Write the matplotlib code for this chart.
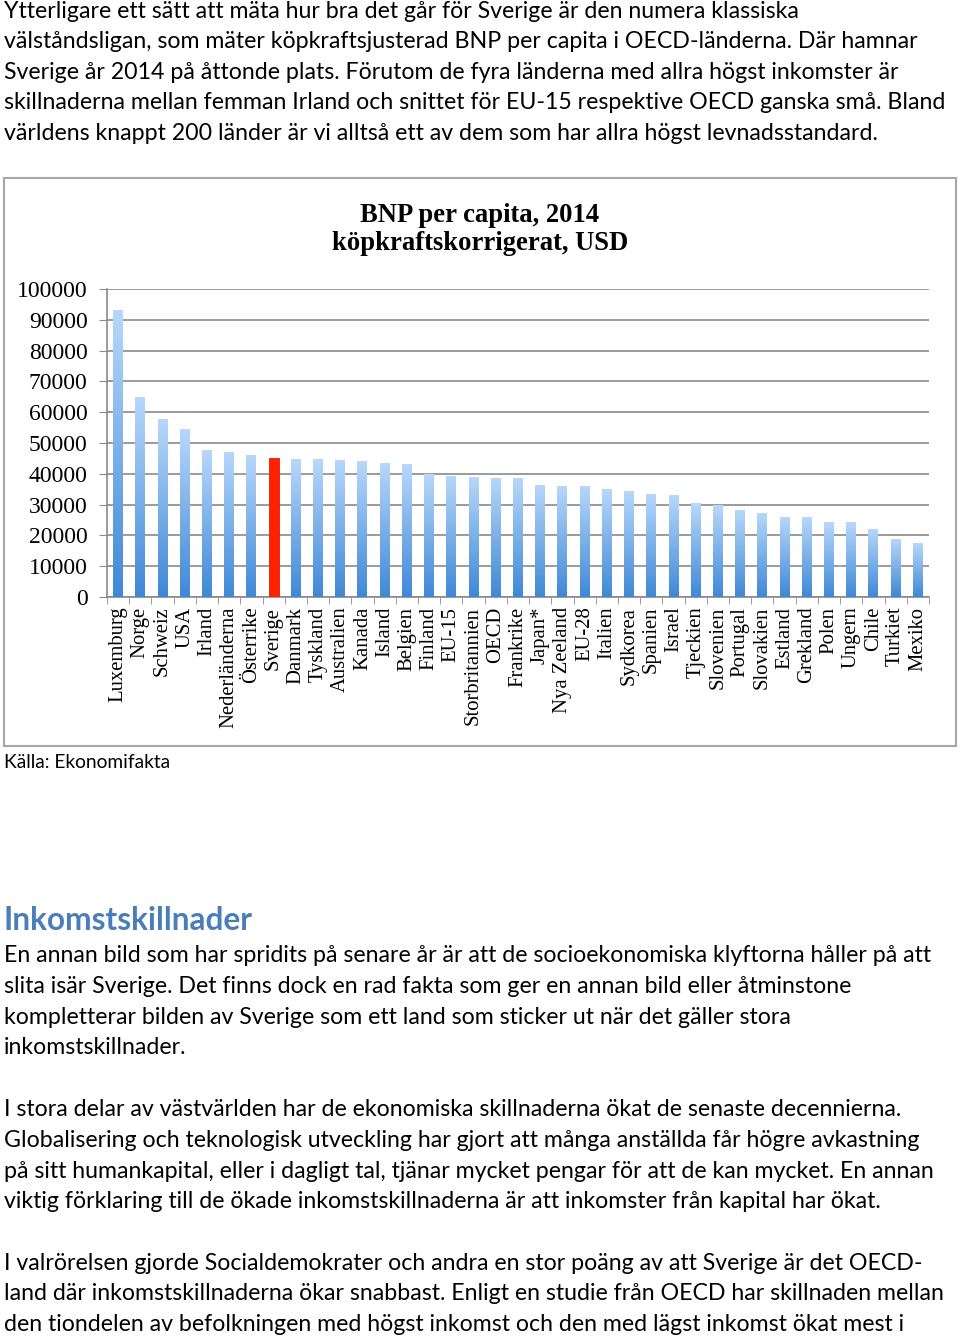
import numpy as np
import matplotlib
matplotlib.use("Agg")
import matplotlib.pyplot as plt
from matplotlib.patches import Rectangle
from matplotlib.colors import LinearSegmentedColormap

countries = ["Luxemburg", "Norge", "Schweiz", "USA", "Irland", "Nederländerna",
             "Österrike", "Sverige", "Danmark", "Tyskland", "Australien", "Kanada",
             "Island", "Belgien", "Finland", "EU-15", "Storbritannien", "OECD",
             "Frankrike", "Japan*", "Nya Zeeland", "EU-28", "Italien", "Sydkorea",
             "Spanien", "Israel", "Tjeckien", "Slovenien", "Portugal", "Slovakien",
             "Estland", "Grekland", "Polen", "Ungern", "Chile", "Turkiet", "Mexiko"]
gdp = [93300, 64900, 57800, 54700, 47700, 47100, 46100, 45000, 44800, 44800,
       44500, 44000, 43600, 43100, 39900, 39300, 39000, 38700, 38700, 36400,
       36200, 36100, 35000, 34300, 33600, 33000, 30500, 29800, 28200, 27400,
       26100, 25900, 24300, 24200, 22200, 18900, 17500]
highlight = "Sverige"
yticks = [0, 10000, 20000, 30000, 40000, 50000, 60000, 70000, 80000, 90000, 100000]

title_lines = ["BNP per capita, 2014", "köpkraftskorrigerat, USD"]
source = "Källa: Ekonomifakta"
intro = ["Ytterligare ett sätt att mäta hur bra det går för Sverige är den numera klassiska",
         "välståndsligan, som mäter köpkraftsjusterad BNP per capita i OECD-länderna. Där hamnar",
         "Sverige år 2014 på åttonde plats. Förutom de fyra länderna med allra högst inkomster är",
         "skillnaderna mellan femman Irland och snittet för EU-15 respektive OECD ganska små. Bland",
         "världens knappt 200 länder är vi alltså ett av dem som har allra högst levnadsstandard."]
heading = "Inkomstskillnader"
para1 = ["En annan bild som har spridits på senare år är att de socioekonomiska klyftorna håller på att",
         "slita isär Sverige. Det finns dock en rad fakta som ger en annan bild eller åtminstone",
         "kompletterar bilden av Sverige som ett land som sticker ut när det gäller stora",
         "inkomstskillnader."]
para2 = ["I stora delar av västvärlden har de ekonomiska skillnaderna ökat de senaste decennierna.",
         "Globalisering och teknologisk utveckling har gjort att många anställda får högre avkastning",
         "på sitt humankapital, eller i dagligt tal, tjänar mycket pengar för att de kan mycket. En annan",
         "viktig förklaring till de ökade inkomstskillnaderna är att inkomster från kapital har ökat."]
para3 = ["I valrörelsen gjorde Socialdemokrater och andra en stor poäng av att Sverige är det OECD-",
         "land där inkomstskillnaderna ökar snabbast. Enligt en studie från OECD har skillnaden mellan",
         "den tiondelen av befolkningen med högst inkomst och den med lägst inkomst ökat mest i"]

W, H = 960, 1338
fig = plt.figure(figsize=(W / 100, H / 100), dpi=100)
fig.patch.set_facecolor("white")

def fy(py):
    return 1 - py / H

body_font = "Lato"
body_size = 16.7
def line(txt, x, y, size=body_size, **kw):
    fig.text(x / W, fy(y), txt, ha="left", va="center", fontsize=size,
             family=body_font, color="black", **kw)

for i, t in enumerate(intro):
    line(t, 4, 11 + i * 30.6)

# chart frame
fig.patches.append(Rectangle((4 / W, fy(746)), 952 / W, (746 - 178) / H,
                             transform=fig.transFigure, fill=False,
                             edgecolor="#a6a6a6", lw=1.5))

fig.text(480 / W, fy(215), title_lines[0], ha="center", va="center",
         fontsize=19.2, fontweight="bold", family="Liberation Serif")
fig.text(480 / W, fy(244), title_lines[1], ha="center", va="center",
         fontsize=19.2, fontweight="bold", family="Liberation Serif")

ax_l, ax_r, ax_t, ax_b = 107, 929, 289, 597
ax = fig.add_axes([ax_l / W, fy(ax_b), (ax_r - ax_l) / W, (ax_b - ax_t) / H])
x = np.arange(len(countries))
bw = 0.45
bars = ax.bar(x, gdp, width=bw, color="none", edgecolor="none", zorder=3)
grad = np.linspace(0, 1, 256).reshape(-1, 1)
cmap = LinearSegmentedColormap.from_list("bl", ["#3f88d6", "#b8d8fb"])
for b, c in zip(bars, countries):
    x0, w_, h_ = b.get_x(), b.get_width(), b.get_height()
    if c == highlight:
        b.set_facecolor("#ff2200")
        b.set_edgecolor("#e01e00")
        b.set_linewidth(0.6)
    else:
        im = ax.imshow(grad, extent=(x0, x0 + w_, 0, h_), origin="lower",
                       cmap=cmap, aspect="auto", zorder=3)
        im.set_clip_path(b)

ax.set_xlim(-0.5, len(countries) - 0.5)
ax.set_ylim(0, 100000)
ax.set_yticks(yticks)
ax.set_yticklabels([str(v) for v in yticks], family="Liberation Serif", fontsize=17)
ax.yaxis.grid(True, color="#8a8a8a", lw=1.2, zorder=1)
ax.set_axisbelow(True)
ax.set_xticks(x)
ax.set_xticklabels(countries, rotation=90, family="Liberation Serif", fontsize=14.9,
                   va="top", ha="center")
ax.set_xticks(np.arange(-0.5, len(countries)), minor=True)
ax.tick_params(axis="x", which="major", length=0, pad=7)
ax.tick_params(axis="x", which="minor", length=5, color="#8a8a8a", direction="out")
ax.tick_params(axis="y", length=6, color="#8a8a8a", pad=8, direction="out")
for s in ["top", "right"]:
    ax.spines[s].set_visible(False)
for s in ["left", "bottom"]:
    ax.spines[s].set_color("#8a8a8a")
    ax.spines[s].set_linewidth(1.2)

line(source, 4, 762, size=13.8)

fig.text(4 / W, fy(920), heading, ha="left", va="center", fontsize=22.8,
         fontweight="bold", family=body_font, color="#4a7ebb")
for i, t in enumerate(para1):
    line(t, 4, 956 + i * 30.6)
for i, t in enumerate(para2):
    line(t, 4, 1110 + i * 30.6)
for i, t in enumerate(para3):
    line(t, 4, 1263 + i * 30.7)

fig.savefig("out.png", dpi=100, facecolor="white")
